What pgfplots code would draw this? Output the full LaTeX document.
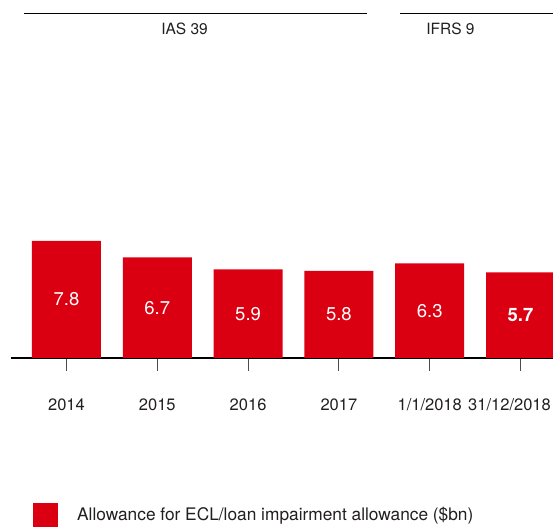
\documentclass[border=0pt]{standalone}
\usepackage{pgfplots}
\pgfplotsset{compat=1.18}
\usepackage{fontspec}
\setmainfont{TeX Gyre Heros}
\definecolor{hsbcred}{RGB}{219,0,17}
\definecolor{txt}{RGB}{35,31,32}

\begin{document}
\begin{tikzpicture}[font=\fontsize{15.5}{18}\selectfont, text=txt]
\begin{axis}[
    x=90.8pt, y=15pt,
    xmin=-0.611, xmax=5.358,
    ymin=0, ymax=22.93,
    clip=false,
    axis x line*=bottom,
    axis y line=none,
    x axis line style={line width=2.5pt, black},
    xtick={0,1,2,3,4,5},
    xticklabels={2014,2015,2016,2017,1/1/2018,\hspace*{-22pt}31/12/2018},
    tick align=outside,
    major tick length=13pt,
    x tick style={line width=1pt, black!70},
    xticklabel style={anchor=north, inner sep=0pt, text height=12pt, text depth=0pt, yshift=-27pt,
        font=\fontsize{16.5}{19}\selectfont},
    /pgf/number format/assume math mode=true,
    ybar, bar width=69pt, bar shift=0pt,
    point meta=explicit symbolic,
    visualization depends on={rawy \as \rawy},
    nodes near coords,
    nodes near coords style={anchor=center, text=white, yshift={-\rawy*7.5pt},
        font=\fontsize{18.5}{21}\selectfont},
    legend image code/.code={\fill[#1] (0pt,-12pt) rectangle (25pt,12pt);},
    legend style={at={(axis description cs:0,0)}, anchor=south west,
        xshift=22pt, yshift=-169pt, draw=none, fill=none, inner sep=0pt,
        font=\fontsize{17.3}{20}\selectfont,
        /tikz/every odd column/.append style={column sep=17pt}},
]
\addplot[fill=hsbcred, draw=none] coordinates {
    (0,7.8) [7.8]
    (1,6.7) [6.7]
    (2,5.9) [5.9]
    (3,5.8) [5.8]
    (4,6.3) [6.3]
    (5,5.7) [\textbf{5.7}]
};
\addlegendentry{Allowance for ECL/loan impairment allowance (\$bn)}

% period brackets
\draw[line width=1pt, black] (axis cs:-0.468,22.93) -- (axis cs:3.309,22.93);
\draw[line width=1pt, black] (axis cs:3.672,22.93) -- (axis cs:5.358,22.93);
\node at (axis cs:1.30,21.93) {IAS 39};
\node at (axis cs:4.229,21.93) {IFRS 9};
\end{axis}
\pgfresetboundingbox
\path ([xshift=-11pt,yshift=-169pt]current axis.south west) rectangle ([yshift=14pt]current axis.north east);
\end{tikzpicture}
\end{document}
